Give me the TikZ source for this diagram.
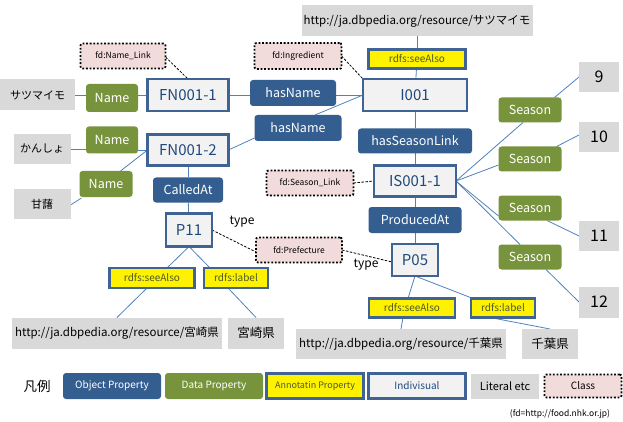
\documentclass[tikz,border=0pt]{standalone}
\usepackage{fontspec}
\setmainfont{Noto Sans CJK JP}
\usepackage{xcolor}
\usetikzlibrary{backgrounds}

\definecolor{objblue}{HTML}{335E8F}
\definecolor{datgreen}{HTML}{77933C}
\definecolor{indblue}{HTML}{3F6392}
\definecolor{indfill}{HTML}{F2F2F2}
\definecolor{indtext}{HTML}{1F497D}
\definecolor{anntext}{HTML}{4A5A2A}
\definecolor{litgray}{HTML}{D9D9D9}
\definecolor{clspink}{HTML}{F2DCDB}
\definecolor{linkblue}{HTML}{4F81BD}

\begin{document}
\begin{tikzpicture}[
		x=1pt, y=-1pt,
		wh/.style 2 args={minimum width=#1pt, minimum height=#2pt},
		base/.style={rectangle, inner sep=0pt, outer sep=0pt, align=center},
		objbox/.style={base, fill=objblue, text=white, rounded corners=3pt, font=\fontsize{12.5}{14}\selectfont},
		databox/.style={base, fill=datgreen, text=white, rounded corners=3pt, font=\fontsize{12.5}{14}\selectfont},
		annbox/.style={base, fill=yellow, draw=indblue, line width=2.2pt, text=anntext, font=\fontsize{10}{12}\selectfont},
		indbox/.style={base, fill=indfill, draw=indblue, line width=2.4pt, text=indtext, font=\fontsize{15}{16}\selectfont},
		litbox/.style={base, fill=litgray, font=\fontsize{11}{12}\selectfont},
		urlbox/.style={litbox, font=\fontsize{11.5}{13}\selectfont},
		numbox/.style={litbox, wh={40}{30}, font=\fontsize{16}{18}\selectfont},
		classbox/.style={base, fill=clspink, draw=black, line width=1.8pt, dash pattern=on 1.8pt off 1.8pt, rounded corners=2pt, font=\fontsize{8.5}{10}\selectfont},
		link/.style={draw=linkblue, line width=0.8pt},
		typelink/.style={draw=black, line width=0.8pt, dash pattern=on 2.5pt off 1.5pt},
		typelabel/.style={font=\fontsize{12}{14}\selectfont, inner sep=0pt}
		]
		\useasboundingbox (0,0) rectangle (623,422);

		% literals
		\node[litbox, wh={75}{31}] (satsuma) at (37.5,95) {サツマイモ};
		\node[urlbox, wh={231}{31}] (urlSatsuma) at (417,21) {http://ja.dbpedia.org/resource/サツマイモ};
		\node[litbox, wh={57}{30}] (kansho) at (42,149) {かんしょ};
		\node[litbox, wh={57}{30}] (kanshoKanji) at (42,204) {甘藷};
		\node[urlbox, wh={210}{31}] (urlMiyazaki) at (117,333) {http://ja.dbpedia.org/resource/宮崎県};
		\node[litbox, wh={56}{31}, font=\fontsize{12.5}{14}\selectfont] (miyazaki) at (256,333) {宮崎県};
		\node[urlbox, wh={210}{30}] (urlChiba) at (401,344) {http://ja.dbpedia.org/resource/千葉県};
		\node[litbox, wh={56}{30}, font=\fontsize{12.5}{14}\selectfont] (chiba) at (550,344) {千葉県};
		\node[numbox] (m9) at (599,77) {9};
		\node[numbox] (m10) at (599,137) {10};
		\node[numbox] (m11) at (599,236) {11};
		\node[numbox, minimum height=31pt] (m12) at (599,302) {12};

		% individuals
		\node[indbox, wh={81}{32}] (fn1) at (188,95) {FN001-1};
		\node[indbox, wh={81}{31}] (fn2) at (188,150) {FN001-2};
		\node[indbox, wh={104}{32}] (i001) at (415,95) {I001};
		\node[indbox, wh={82}{31}] (is001) at (415,181) {IS001-1};
		\node[indbox, wh={46}{33}] (p11) at (189,230) {P11};
		\node[indbox, wh={46}{32}] (p05) at (415,260) {P05};

		% data properties
		\node[databox, wh={52}{28}] (name1) at (112,98) {Name};
		\node[databox, wh={52}{27}] (name2) at (112,140) {Name};
		\node[databox, wh={53}{26}] (name3) at (106,184) {Name};
		\foreach \i/\y in {1/110, 2/159, 3/208, 4/257}
			\node[databox, wh={63}{25}] (season\i) at (530,\y) {Season};

		% object properties
		\node[objbox, wh={86}{26}] (hasName1) at (293,93) {hasName};
		\node[objbox, wh={87}{26}] (hasName2) at (298,128) {hasName};
		\node[objbox, wh={114}{25}] (hasSeason) at (415,141) {hasSeasonLink};
		\node[objbox, wh={70}{25}] (calledAt) at (188,190) {CalledAt};
		\node[objbox, wh={93}{26}] (producedAt) at (415,220) {ProducedAt};

		% annotation properties
		\node[annbox, wh={97}{19}] (seeAlsoI) at (417,59) {rdfs:seeAlso};
		\node[annbox, wh={85}{20}] (seeAlsoP11) at (152,278) {rdfs:seeAlso};
		\node[annbox, wh={64}{20}] (labelP11) at (236,278) {rdfs:label};
		\node[annbox, wh={86}{19}] (seeAlsoP05) at (412,308) {rdfs:seeAlso};
		\node[annbox, wh={64}{19}] (labelP05) at (503,308) {rdfs:label};

		% classes
		\node[classbox, wh={85}{25}] (clsName) at (123,56) {fd:Name\_Link};
		\node[classbox, wh={87}{26}] (clsIngredient) at (298,56) {fd:Ingredient};
		\node[classbox, wh={87}{25}] (clsSeason) at (310,183) {fd:Season\_Link};
		\node[classbox, wh={86}{25}] (clsPref) at (299,250) {fd:Prefecture};

		\node[typelabel] (type1) at (242,222) {type};
		\node[typelabel] (type2) at (366,265) {type};

		% legend
		\node[font=\fontsize{13.5}{15}\selectfont, inner sep=0pt] (legTitle) at (37,386) {凡例};
		\node[objbox, wh={98}{26}, font=\fontsize{10}{12}\selectfont] (legObj) at (112,386) {Object Property};
		\node[databox, wh={98}{26}, font=\fontsize{10}{12}\selectfont] (legData) at (214,386) {Data Property};
		\node[annbox, wh={97}{25}, font=\fontsize{9}{11}\selectfont] (legAnn) at (315,386) {Annotatin Property};
		\node[indbox, wh={97}{25}, font=\fontsize{10}{12}\selectfont] (legInd) at (417,386) {Indivisual};
		\node[litbox, wh={68}{25}] (legLit) at (505,386) {Literal etc};
		\node[classbox, wh={77}{23}, font=\fontsize{10}{12}\selectfont] (legClass) at (583,386) {Class};
		\node[font=\fontsize{8.5}{10}\selectfont, inner sep=0pt] (legNote) at (560,414) {(fd=http://food.nhk.or.jp)};

		\begin{scope}[on background layer]
			\draw[link] (satsuma.east |- fn1.west) -- (name1.west |- fn1.west);
			\draw[link] (name1.east |- fn1.west) -- (fn1.west);
			\draw[link] (fn1.east) -- (hasName1.west |- fn1.east);
			\draw[link] (hasName1.east |- i001.west) -- (i001.west);
			\draw[link] (fn2.east) -- ([yshift=-10pt]hasName2.west);
			\draw[link] ([xshift=17pt]hasName2.north) -- (i001.west);
			\draw[link] (kansho.east) -- (name2.west |- kansho.east);
			\draw[link] (name2.east |- fn2.west) -- (fn2.west);
			\draw[link] (fn2.west) -- ([xshift=-12pt]name3.north east);
			\draw[link] ([xshift=2pt, yshift=-1pt]name3.south west) -- ([yshift=-1pt]kanshoKanji.east);
			\draw[link] (urlSatsuma) -- (seeAlsoI);
			\draw[link] (seeAlsoI) -- (i001);
			\draw[link] (i001) -- (hasSeason);
			\draw[link] (hasSeason) -- (is001);
			\draw[link] (is001) -- (producedAt);
			\draw[link] (producedAt) -- (p05);
			\draw[link] (fn2) -- (calledAt);
			\draw[link] (calledAt) -- (p11);
			\draw[link] (is001.east) -- ([xshift=-7pt]season1.south);
			\draw[link] (is001.east) -- ([yshift=-6pt]season2.west);
			\draw[link] (is001.east) -- ([yshift=-8pt]season3.west);
			\draw[link] (is001.east) -- ([xshift=-10pt]season4.north);
			\draw[link] ([xshift=-7pt]season1.north east) -- (m9.west);
			\draw[link] ([xshift=-5pt]season2.north east) -- ([yshift=2pt]m10.west);
			\draw[link] ([xshift=17pt]season3.south) -- (m11.west);
			\draw[link] ([xshift=16pt]season4.south) -- (m12.west);
			\draw[link] (p11.south) -- ([xshift=15pt]seeAlsoP11.north);
			\draw[link] (p11.south) -- ([xshift=-26pt]labelP11.north);
			\draw[link] ([xshift=-5pt]seeAlsoP11.south) -- (urlMiyazaki.north);
			\draw[link] ([xshift=-8pt]labelP11.south) -- (miyazaki.north);
			\draw[link] (p05.south) -- ([xshift=-4pt]seeAlsoP05.north);
			\draw[link] (p05.south) -- ([xshift=-30pt]labelP05.north);
			\draw[link] ([xshift=-9pt]seeAlsoP05.south) -- (urlChiba.north);
			\draw[link] ([xshift=19pt]labelP05.south west) -- (chiba.north);
			% class links
			\draw[typelink] ([yshift=-1pt]clsName.east) -- (fn1.north);
			\draw[typelink] (clsIngredient.east) -- (i001.north west);
			\draw[typelink] (clsSeason.east) -- (is001.west);
			\draw[typelink] (p11.east) -- ([yshift=-2pt]clsPref.west);
			\draw[typelink] (clsPref.east) -- ([yshift=-2pt]p05.west);
		\end{scope}
	\end{tikzpicture}
\end{document}
